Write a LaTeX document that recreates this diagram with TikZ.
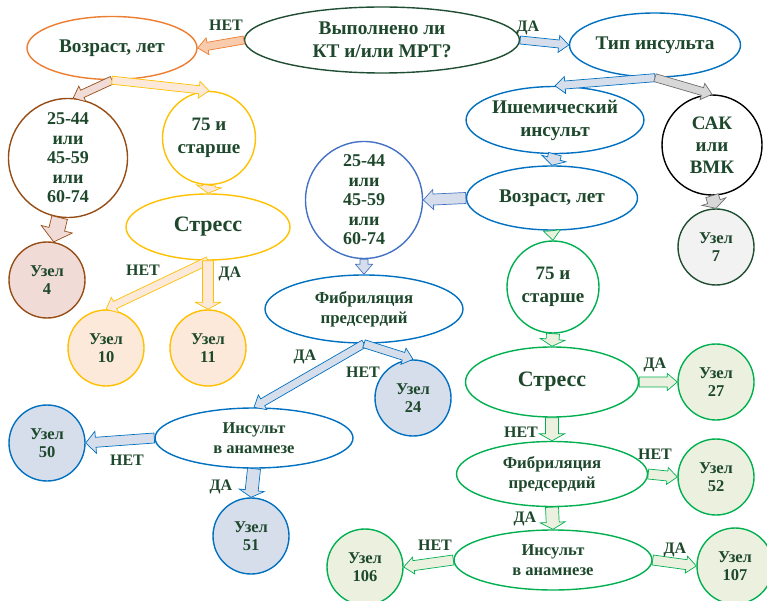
\documentclass[tikz,border=0pt]{standalone}
\usepackage{fontspec}
\setmainfont{Liberation Serif}
\usetikzlibrary{
  shapes.geometric,
  calc}
\definecolor{textcolor}{RGB}{30,72,44}
\definecolor{darkcolor}{RGB}{31,78,50}
\definecolor{orangecolor}{RGB}{237,125,49}
\definecolor{orangefill}{RGB}{248,203,173}
\definecolor{browncolor}{RGB}{150,78,22}
\definecolor{brownfill}{RGB}{241,219,214}
\definecolor{goldcolor}{RGB}{255,192,0}
\definecolor{goldfill}{RGB}{252,233,217}
\definecolor{bluecolor}{RGB}{0,112,192}
\definecolor{lightbluecolor}{RGB}{68,114,196}
\definecolor{bluefill}{RGB}{214,222,235}
\definecolor{greencolor}{RGB}{0,176,80}
\definecolor{greenfill}{RGB}{235,241,222}
\definecolor{greycolor}{RGB}{110,110,110}
\definecolor{greyfill}{RGB}{215,215,215}
\definecolor{paleleaf}{RGB}{242,242,242}
\tikzset{
  %% arrow sizes : half shaft width, half head width, head length
  shaft/.store in=\fatw,
  head/.store in=\fath,
  headlen/.store in=\fatl,
  shaft=4, head=9, headlen=10,
  %% question : an oval with a question or a factor
  question/.style={
    ellipse,
    draw,
    line width=1.4pt,
    fill=white,
    inner sep=0pt,
    align=center,
    text=textcolor,
    font=\fontsize{19.3}{23}\selectfont\bfseries
  },
  %% group : a circle with a group of patients
  group/.style={
    circle,
    draw,
    line width=1.4pt,
    fill=white,
    inner sep=0pt,
    align=center,
    text=textcolor,
    font=\fontsize{18}{19.5}\selectfont\bfseries
  },
  %% leaf : a final node of the tree
  leaf/.style={
    circle,
    draw,
    line width=1.4pt,
    minimum size=76pt,
    inner sep=0pt,
    align=center,
    text=textcolor,
    font=\fontsize{16.5}{18.5}\selectfont\bfseries
  },
  %% answer : ДА / НЕТ at an arrow
  answer/.style={
    text=textcolor,
    inner sep=0pt,
    font=\fontsize{16}{16}\selectfont\bfseries
  },
  %% fatarrow : outlined block arrow
  fatarrow/.style={line width=0.7pt},
  thinarrow/.style={shaft=4, head=8.5, headlen=10},
  widearrow/.style={shaft=6.5, head=12.5, headlen=7},
  broadarrow/.style={shaft=8, head=16, headlen=13}
}
%% \fatarrow[options]{from}{to}
\newcommand{\fatarrow}[3][]{%
  \filldraw[fatarrow, #1]
  let \p1=(#2), \p2=(#3),
      \n1={atan2(\y2-\y1,\x2-\x1)},
      \n2={veclen(\x2-\x1,\y2-\y1)} in
  [shift={(\p1)}, rotate=\n1]
  (0,\fatw) -- ({\n2-\fatl},\fatw) -- ({\n2-\fatl},\fath) -- (\n2,0)
  -- ({\n2-\fatl},-\fath) -- ({\n2-\fatl},-\fatw) -- (0,-\fatw) -- cycle;
}

\begin{document}
\begin{tikzpicture}
  [x=1pt,
  y=-1pt]

  \useasboundingbox (0,0) rectangle (767,601);

  %% Grid for orientation
  %\draw[help lines, green] (0,0) grid[step=50] (767,601);

  %% Root
  \node (top) [question, draw=darkcolor, minimum width=275pt,
  minimum height=66pt] at (382,40) {Выполнено ли\\КТ и/или МРТ?};

  %% Left branch: no CT / MRI
  \node (agel) [question, draw=orangecolor, minimum width=170pt,
  minimum height=63pt] at (112,48) {Возраст, лет};
  \node (agelow) [group, draw=browncolor, minimum size=119pt]
  at (68,158) {25-44\\или\\45-59\\или\\60-74};
  \node (old) [group, draw=goldcolor, minimum size=93pt,
  font=\fontsize{19}{23}\selectfont\bfseries]
  at (209,138) {75 и\\старше};
  \node (stress) [question, draw=goldcolor, minimum width=164pt,
  minimum height=66pt, font=\fontsize{22}{24}\selectfont\bfseries]
  at (208,227) {Стресс};
  \node (n4) [leaf, draw=browncolor, fill=brownfill] at (47,280) {Узел\\4};
  \node (n10) [leaf, draw=goldcolor, fill=goldfill] at (106,348) {Узел\\10};
  \node (n11) [leaf, draw=goldcolor, fill=goldfill] at (208,348) {Узел\\11};

  %% Right branch: stroke type
  \node (type) [question, draw=bluecolor, minimum width=171pt,
  minimum height=64pt] at (655,45) {Тип инсульта};
  \node (isch) [question, draw=bluecolor, minimum width=167pt,
  minimum height=67pt] at (555,120) {Ишемический\\инсульт};
  \node (sak) [group, draw=black, minimum size=100pt,
  font=\fontsize{19}{22}\selectfont\bfseries]
  at (712,145) {САК\\или\\ВМК};
  \node (n7) [leaf, draw=darkcolor, fill=paleleaf] at (716,247) {Узел\\7};
  \node (ager) [question, draw=bluecolor, minimum width=171pt,
  minimum height=64pt] at (552,198) {Возраст, лет};

  %% Ischemic, younger
  \node (mid) [group, draw=lightbluecolor, minimum size=117pt]
  at (364,200) {25-44\\или\\45-59\\или\\60-74};
  \node (fibm) [question, draw=bluecolor, minimum width=198pt,
  minimum height=68pt, font=\fontsize{16.8}{20}\selectfont\bfseries]
  at (364,309) {Фибриляция\\предсердий};
  \node (n24) [leaf, draw=bluecolor, fill=bluefill] at (413,398) {Узел\\24};
  \node (insl) [question, draw=bluecolor, minimum width=198pt,
  minimum height=60pt, font=\fontsize{16.5}{20}\selectfont\bfseries]
  at (254,438) {Инсульт\\в анамнезе};
  \node (n50) [leaf, draw=bluecolor, fill=bluefill] at (47,443) {Узел\\50};
  \node (n51) [leaf, draw=bluecolor, fill=bluefill] at (251,536) {Узел\\51};

  %% Ischemic, older
  \node (oldg) [group, draw=greencolor, minimum size=92pt,
  font=\fontsize{19}{23}\selectfont\bfseries]
  at (553,287) {75 и\\старше};
  \node (stressg) [question, draw=greencolor, minimum width=173pt,
  minimum height=70pt, font=\fontsize{22}{24}\selectfont\bfseries]
  at (552,382) {Стресс};
  \node (n27) [leaf, draw=greencolor, fill=greenfill] at (716,382) {Узел\\27};
  \node (fibg) [question, draw=greencolor, minimum width=191pt,
  minimum height=65pt, font=\fontsize{16.8}{20}\selectfont\bfseries]
  at (552,474) {Фибриляция\\предсердий};
  \node (n52) [leaf, draw=greencolor, fill=greenfill] at (716,477) {Узел\\52};
  \node (insg) [question, draw=greencolor, minimum width=198pt,
  minimum height=60pt, font=\fontsize{16.5}{20}\selectfont\bfseries]
  at (553,560) {Инсульт\\в анамнезе};
  \node (n106) [leaf, draw=greencolor, fill=greenfill] at (365,567) {Узел\\106};
  \node (n107) [leaf, draw=greencolor, fill=greenfill] at (735,566) {Узел\\107};

  %% Connections
  \fatarrow[thinarrow, fill=orangefill, draw=orangecolor]{top.west}{agel.east}
  \fatarrow[thinarrow, fill=bluefill, draw=bluecolor]{top.east}{type.west}

  \fatarrow[thinarrow, fill=brownfill, draw=browncolor]{agel.south}{agelow.85}
  \fatarrow[thinarrow, fill=goldfill, draw=goldcolor]{agel.south}{old.north}
  \fatarrow[widearrow, fill=goldfill, draw=goldcolor]{old.south}{stress.north}
  \fatarrow[broadarrow, fill=brownfill, draw=browncolor]{agelow.-98}{n4.80}
  \fatarrow[thinarrow, fill=goldfill, draw=goldcolor]{stress.south}{n10.north}
  \fatarrow[widearrow, shaft=5.5, fill=goldfill, draw=goldcolor]{stress.south}{n11.north}

  \fatarrow[thinarrow, fill=bluefill, draw=bluecolor]{type.south}{isch.north}
  \fatarrow[thinarrow, fill=greyfill, draw=greycolor]{type.south}{sak.north}
  \fatarrow[widearrow, fill=bluefill, draw=bluecolor]{isch.south}{ager.north}
  \fatarrow[widearrow, fill=greyfill, draw=greycolor]{sak.south}{n7.north}

  \fatarrow[thinarrow, shaft=5.5, head=10, fill=bluefill, draw=lightbluecolor]{ager.west}{mid.east}
  \fatarrow[thinarrow, fill=bluefill, draw=lightbluecolor]{mid.south}{fibm.north}
  \fatarrow[thinarrow, fill=bluefill, draw=bluecolor]{fibm.south}{insl.north}
  \fatarrow[thinarrow, fill=bluefill, draw=bluecolor]{fibm.south}{n24.north}
  \fatarrow[thinarrow, shaft=5, head=11, fill=bluefill, draw=bluecolor]{insl.west}{n50.east}
  \fatarrow[widearrow, fill=bluefill, draw=bluecolor]{insl.south}{n51.north}

  \fatarrow[thinarrow, shaft=5, fill=greenfill, draw=greencolor]{ager.south}{oldg.north}
  \fatarrow[widearrow, fill=greenfill, draw=greencolor]{oldg.south}{stressg.north}
  \fatarrow[thinarrow, shaft=5, fill=greenfill, draw=greencolor]{stressg.east}{n27.west}
  \fatarrow[widearrow, fill=greenfill, draw=greencolor]{stressg.south}{fibg.north}
  \fatarrow[thinarrow, shaft=5, fill=greenfill, draw=greencolor]{fibg.east}{n52.west}
  \fatarrow[widearrow, fill=greenfill, draw=greencolor]{fibg.south}{insg.north}
  \fatarrow[thinarrow, shaft=5, fill=greenfill, draw=greencolor]{insg.west}{n106.east}
  \fatarrow[thinarrow, shaft=5, fill=greenfill, draw=greencolor]{insg.east}{n107.west}

  %% Answers
  \node (nettop) [answer] at (226,25) {НЕТ};
  \node (datop) [answer] at (528,28) {ДА};
  \node (netstress) [answer] at (143,270) {НЕТ};
  \node (dastress) [answer] at (230,274) {ДА};
  \node (dafibm) [answer] at (305,357) {ДА};
  \node (netfibm) [answer] at (363,372) {НЕТ};
  \node (netinsl) [answer] at (127,460) {НЕТ};
  \node (dainsl) [answer] at (221,487) {ДА};
  \node (dastressg) [answer] at (655,365) {ДА};
  \node (netstressg) [answer] at (521,432) {НЕТ};
  \node (netfibg) [answer] at (655,454) {НЕТ};
  \node (dafibg) [answer] at (525,519) {ДА};
  \node (netinsg) [answer] at (435,545) {НЕТ};
  \node (dainsg) [answer] at (675,550) {ДА};

\end{tikzpicture}
\end{document}
